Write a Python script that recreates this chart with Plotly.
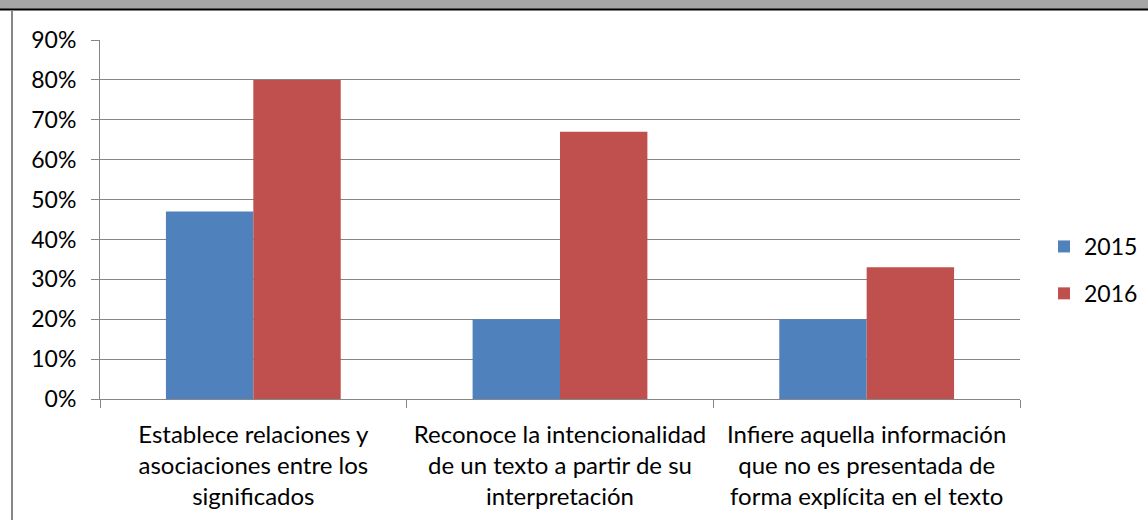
import plotly.graph_objects as go

categories = [
    "Establece relaciones y<br>asociaciones entre los<br>significados",
    "Reconoce la intencionalidad<br>de un texto a partir de su<br>interpretación",
    "Infiere aquella información<br>que no es presentada de<br>forma explícita en el texto",
]
series_names = ["2015", "2016"]
values_2015 = [0.47, 0.20, 0.20]
values_2016 = [0.80, 0.67, 0.33]
y_ticks = [0, 0.1, 0.2, 0.3, 0.4, 0.5, 0.6, 0.7, 0.8, 0.9]

W, H = 1148, 520
L, R, T, B = 100, 128, 40, 121
pw, ph = W - L - R, H - T - B

def px_x(x):
    return (x - L) / pw

def px_y(y):
    return (H - B - y) / ph

FONT = "Lato"
FS = 23
GRID = "#868686"

fig = go.Figure()
fig.add_trace(go.Bar(x=categories, y=values_2015, name=series_names[0],
                     marker=dict(color="#4f81bd", line=dict(width=0)), legendgroup="a"))
fig.add_trace(go.Bar(x=categories, y=values_2016, name=series_names[1],
                     marker=dict(color="#c0504d", line=dict(width=0)), legendgroup="b"))

fig.update_layout(
    width=W, height=H, autosize=False,
    margin=dict(l=L, r=R, t=T, b=B, autoexpand=False),
    paper_bgcolor="white", plot_bgcolor="white",
    barmode="group", bargap=0.43, bargroupgap=0,
    font=dict(family=FONT, size=FS, color="black"),
    showlegend=True,
    legend=dict(x=px_x(1044), y=px_y(270), xanchor="left", yanchor="middle",
                font=dict(family=FONT, size=FS, color="black"),
                tracegroupgap=14, bgcolor="rgba(0,0,0,0)"),
    xaxis=dict(showline=True, linecolor=GRID, linewidth=1, ticks="outside",
               tickson="boundaries", ticklen=8, tickcolor=GRID,
               showgrid=False, ticklabelstandoff=14, automargin=False,
               tickfont=dict(family=FONT, size=24)),
    yaxis=dict(range=[0, 0.9], tickvals=y_ticks, tickformat=".0%",
               showline=True, linecolor=GRID, linewidth=1, ticks="outside",
               ticklen=8, tickcolor=GRID, showgrid=True, gridcolor=GRID,
               gridwidth=1, zeroline=False, ticklabelstandoff=10, automargin=False,
               tickfont=dict(family=FONT, size=FS)),
    shapes=[
        dict(type="rect", xref="paper", yref="paper", x0=px_x(0), x1=px_x(W),
             y0=px_y(9), y1=px_y(0), fillcolor="#a6a6a6", line=dict(width=0), layer="above"),
        dict(type="line", xref="paper", yref="paper", x0=px_x(0), x1=px_x(W),
             y0=px_y(9.5), y1=px_y(9.5), line=dict(color="black", width=2), layer="above"),
        dict(type="line", xref="paper", yref="paper", x0=px_x(12), x1=px_x(12),
             y0=px_y(10), y1=px_y(H), line=dict(color=GRID, width=2), layer="above"),
    ],
)

fig.write_html(
    "out.html",
    config={"responsive": False, "displayModeBar": False},
    post_script="document.body.style.margin='0';document.body.style.overflow='hidden';",
)
